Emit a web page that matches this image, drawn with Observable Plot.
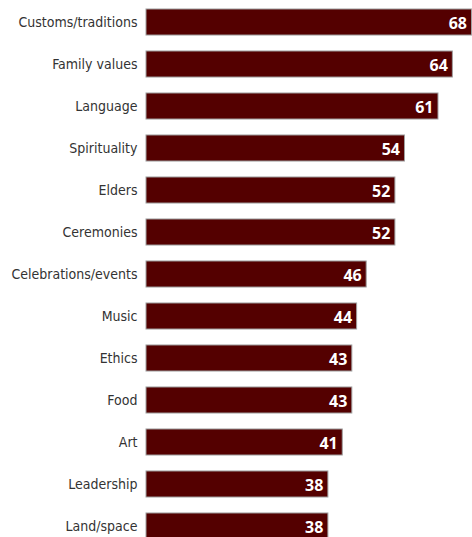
<!DOCTYPE html>
<html>
<head>
<meta charset="utf-8">
<script src="https://cdn.jsdelivr.net/npm/d3@7"></script>
<script src="https://cdn.jsdelivr.net/npm/@observablehq/plot@0.6"></script>
<style>
html, body { margin: 0; padding: 0; background: #fff; overflow: hidden; }
</style>
</head>
<body>
<div id="chart"></div>
<script>
const categories = ["Customs/traditions", "Family values", "Language", "Spirituality", "Elders", "Ceremonies", "Celebrations/events", "Music", "Ethics", "Food", "Art", "Leadership", "Land/space"];
const values = [68, 64, 61, 54, 52, 52, 46, 44, 43, 43, 41, 38, 38];
const data = categories.map((c, i) => ({category: c, value: values[i]}));

const chart = Plot.plot({
  width: 472,
  height: 537,
  marginLeft: 146,
  marginRight: 0,
  marginTop: 0,
  marginBottom: 0,
  x: {domain: [0, 68], range: [146, 471.5], axis: null},
  y: {domain: categories, range: [0, 548], round: false, paddingInner: 0.38, paddingOuter: 0.214, label: null},
  style: {fontFamily: "'DejaVu Sans Condensed', sans-serif"},
  marks: [
    Plot.barX(data, {x: "value", y: "category", fill: "#540000", stroke: "#a0a0a0", strokeWidth: 1}),
    Plot.text(data, {x: "value", y: "category", text: d => String(d.value), textAnchor: "end", dx: -5, dy: 1, fill: "white", fontWeight: "bold", fontSize: 16, fontFamily: "'Open Sans', sans-serif"}),
    Plot.axisY({tickSize: 0, tickPadding: 9, fontSize: 14, fill: "#333", label: null})
  ]
});
document.getElementById("chart").appendChild(chart);
</script>
</body>
</html>
